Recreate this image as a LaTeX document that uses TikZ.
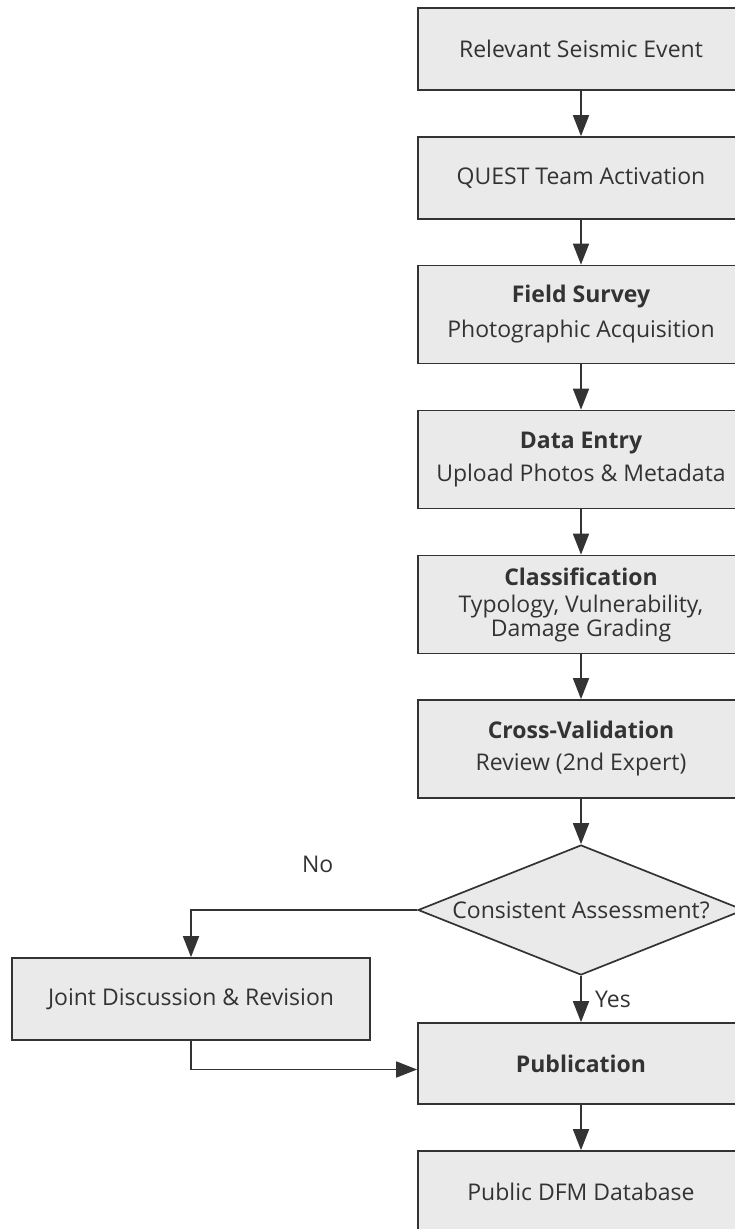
\documentclass[tikz,border=0pt]{standalone}
\usepackage{fontspec}
\setmainfont{Open Sans}
\usepackage{xcolor}
\usepackage{tikz}
\usetikzlibrary{arrows.meta}
\usetikzlibrary{shapes.geometric}

\definecolor{boxfill}{HTML}{EAEAEA}
\definecolor{ink}{HTML}{333333}

\begin{document}
\begin{tikzpicture}[x=1pt,y=-1pt,
    box/.style={draw=ink,fill=boxfill,line width=1.7pt,text=ink,align=center,
      minimum width=326pt,minimum height=82pt,inner sep=0pt,
      font=\fontsize{23}{22}\selectfont},
    tallbox/.style={box,minimum height=98pt},
    decision/.style={draw=ink,fill=boxfill,line width=1.7pt,text=ink,diamond,
      shape aspect=2.5,inner sep=0pt,minimum width=326pt,minimum height=130pt,
      font=\fontsize{23}{22}\selectfont},
    flow/.style={draw=ink,line width=1.7pt,-{Triangle[length=21pt,width=16pt]}},
    tag/.style={text=ink,font=\fontsize{23}{22}\selectfont}]
    \useasboundingbox (0,0) rectangle (735,1229);

    \node[box] (event) at (581,49) {Relevant Seismic Event};
    \node[box] (quest) at (581,178) {QUEST Team Activation};
    \node[tallbox] (survey) at (581,314.5) {\textbf{Field Survey}\\[11pt]Photographic Acquisition};
    \node[tallbox] (entry) at (581,459.5) {\textbf{Data Entry}\\[9pt]Upload Photos \& Metadata};
    \node[tallbox] (classify) at (581,604.5) {\textbf{Classification}\\[5pt]Typology, Vulnerability,\\Damage Grading};
    \node[tallbox] (crossval) at (581,749) {\textbf{Cross-Validation}\\[10pt]Review (2nd Expert)};
    \node[decision] (check) at (581,910) {Consistent Assessment?};
    \node[box,minimum width=358pt] (joint) at (191,999) {Joint Discussion \& Revision};
    \node[box,minimum height=81pt] (publish) at (581,1063.5) {\textbf{Publication}};
    \node[box] (dfm) at (581,1192) {Public DFM Database};

    \draw[flow] (event) -- (quest);
    \draw[flow] (quest) -- (survey);
    \draw[flow] (survey) -- (entry);
    \draw[flow] (entry) -- (classify);
    \draw[flow] (classify) -- (crossval);
    \draw[flow] (crossval) -- (check);
    \draw[flow] (check.west) -| node[tag,pos=0.22,above=33pt]{No} (joint.north);
    \draw[flow] (check.south) -- node[tag,right=10pt]{Yes} (publish.north);
    \draw[flow] (joint.south) |- ([yshift=-6pt]publish.west);
    \draw[flow] (publish) -- (dfm);
  \end{tikzpicture}
\end{document}
